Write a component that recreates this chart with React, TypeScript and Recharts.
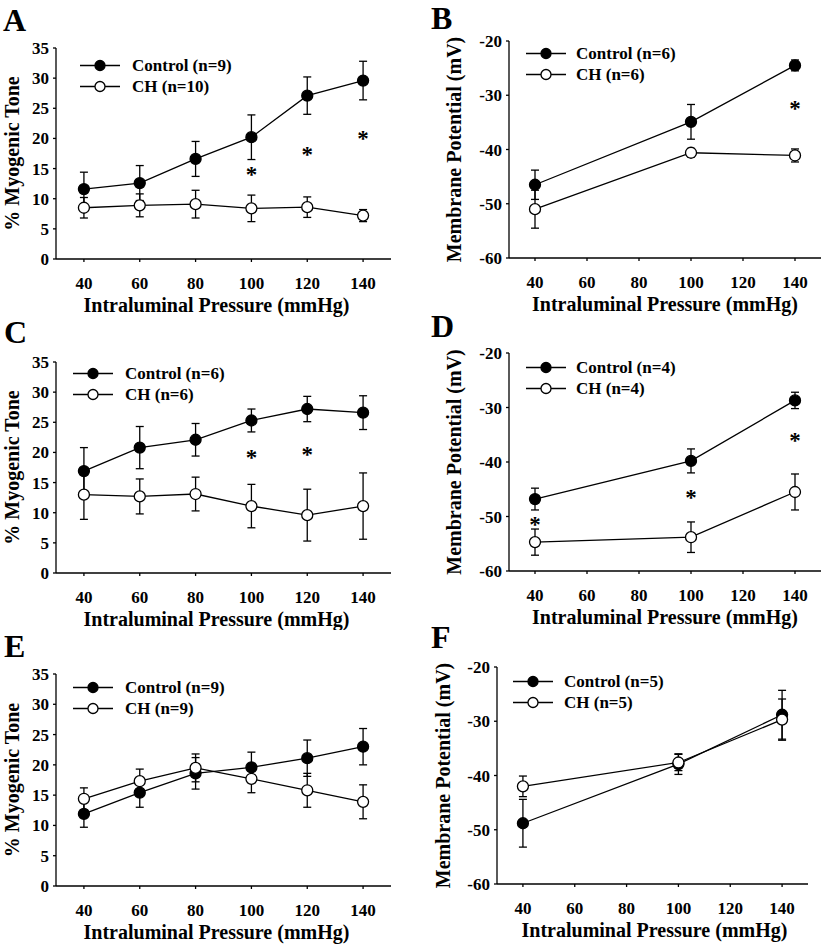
import React from 'react';
import { ComposedChart, Line, Scatter, XAxis, YAxis, ErrorBar, Legend } from 'recharts';

const FONT = '"Liberation Serif", "Times New Roman", serif';

// shared axes
const tonePressures = [40, 60, 80, 100, 120, 140];
const vmPressures = [40, 100, 140];
const pressureTicks = [40, 60, 80, 100, 120, 140];
const toneTicks = [0, 5, 10, 15, 20, 25, 30, 35];
const vmTicks = [-60, -50, -40, -30, -20];

// A - myogenic tone
const aControl = [11.6, 12.6, 16.6, 20.2, 27.1, 29.6];
const aControlSem = [2.8, 2.9, 2.9, 3.7, 3.1, 3.2];
const aCH = [8.5, 8.9, 9.1, 8.4, 8.6, 7.2];
const aCHSem = [1.7, 1.9, 2.3, 2.2, 1.7, 1.0];
const aStarP = [100, 120, 140];
const aStarY = [14.4, 17.7, 20.4];

// B - membrane potential
const bControl = [-46.5, -34.9, -24.5];
const bControlSem = [2.7, 3.2, 1.0];
const bCH = [-51.0, -40.6, -41.1];
const bCHSem = [3.5, 0.8, 1.2];
const bStarP = [140];
const bStarY = [-32];

// C - myogenic tone
const cControl = [16.9, 20.8, 22.1, 25.3, 27.2, 26.6];
const cControlSem = [3.9, 3.5, 2.7, 1.9, 2.1, 2.8];
const cCH = [13.0, 12.7, 13.1, 11.1, 9.6, 11.1];
const cCHSem = [4.1, 2.9, 2.8, 3.6, 4.3, 5.5];
const cStarP = [100, 120];
const cStarY = [19.6, 20.1];

// D - membrane potential
const dControl = [-46.8, -39.8, -28.7];
const dControlSem = [2.0, 2.2, 1.5];
const dCH = [-54.7, -53.8, -45.5];
const dCHSem = [2.4, 2.8, 3.3];
const dStarP = [40, 100, 140];
const dStarY = [-51, -46, -35.6];

// E - myogenic tone
const eControl = [11.9, 15.4, 18.6, 19.6, 21.1, 23.0];
const eControlSem = [2.2, 2.4, 2.6, 2.5, 3.0, 3.0];
const eCH = [14.4, 17.3, 19.5, 17.7, 15.8, 13.9];
const eCHSem = [1.8, 2.0, 2.3, 2.3, 2.8, 2.8];

// F - membrane potential
const fControl = [-48.8, -37.9, -28.8];
const fControlSem = [4.4, 1.9, 4.5];
const fCH = [-42.0, -37.6, -29.7];
const fCHSem = [1.9, 1.5, 3.8];

const toneLabel = '% Myogenic Tone';
const vmLabel = 'Membrane Potential (mV)';
const xLabel = 'Intraluminal Pressure (mmHg)';

const buildRows = (p: number[], c: number[], cs: number[], h: number[], hs: number[]) =>
  p.map((v, i) => ({ p: v, ctrl: c[i], ctrlSem: cs[i], ch: h[i], chSem: hs[i] }));

const buildStars = (p: number[], y: number[]) => p.map((v, i) => ({ p: v, y: y[i] }));

const tickStyle = { fill: '#000', fontSize: 17, fontWeight: 'bold', fontFamily: FONT };

const Star = (props: any) => {
  const { cx, cy } = props;
  if (cx == null || cy == null) return null;
  return (
    <text x={cx} y={cy + 10} textAnchor="middle" fontFamily={FONT} fontWeight="bold" fontSize={23} fill="#000">
      *
    </text>
  );
};

interface PanelProps {
  left: number;
  top: number;
  height: number;
  plot: { l: number; r: number; t: number; b: number };
  rows: any[];
  stars: { p: number; y: number }[];
  names: string[];
  yDomain: number[];
  yTicks: number[];
  yLabel: string;
  yLabelX: number;
  xTitleDx: number;
  legend: { x: number; y: number; gap: number };
}

const Panel = ({ left, top, height, plot, rows, stars, names, yDomain, yTicks, yLabel, yLabelX, xTitleDx, legend }: PanelProps) => {
  const width = 411;
  const midY = (plot.t + plot.b) / 2;
  const midX = (plot.l + plot.r) / 2 + xTitleDx;

  const renderLegend = () => (
    <div style={{ fontFamily: FONT, fontWeight: 'bold', fontSize: 17, color: '#000' }}>
      {names.map((n, i) => (
        <div key={n} style={{ height: 21, display: 'flex', alignItems: 'center' }}>
          <svg width={40} height={21} style={{ display: 'block' }}>
            <line x1={0} x2={40} y1={10.5} y2={10.5} stroke="#000" strokeWidth={1.3} />
            <circle cx={20} cy={10.5} r={5} fill={i === 0 ? '#000' : '#fff'} stroke="#000" strokeWidth={1.3} />
          </svg>
          <span style={{ marginLeft: legend.gap, lineHeight: '21px', whiteSpace: 'nowrap' }}>{n}</span>
        </div>
      ))}
    </div>
  );

  const YTitle = () => (
    <text
      x={yLabelX}
      y={midY}
      transform={`rotate(-90, ${yLabelX}, ${midY})`}
      textAnchor="middle"
      fontFamily={FONT}
      fontWeight="bold"
      fontSize={20}
      fill="#000"
    >
      {yLabel}
    </text>
  );

  const XTitle = () => (
    <text x={midX} y={plot.b + 53} textAnchor="middle" fontFamily={FONT} fontWeight="bold" fontSize={20} fill="#000">
      {xLabel}
    </text>
  );

  return (
    <div style={{ position: 'absolute', left, top, width, height }}>
      <ComposedChart
        width={width}
        height={height}
        data={rows}
        margin={{ top: plot.t, right: width - plot.r, bottom: 0, left: 0 }}
      >
        <XAxis
          type="number"
          dataKey="p"
          domain={[30, 150]}
          ticks={pressureTicks}
          height={height - plot.b}
          tick={tickStyle}
          tickSize={3}
          tickMargin={15}
          axisLine={{ stroke: '#000', strokeWidth: 1.3 }}
          tickLine={{ stroke: '#000', strokeWidth: 1.3 }}
          label={<XTitle />}
        />
        <YAxis
          type="number"
          domain={yDomain}
          ticks={yTicks}
          width={plot.l}
          tick={tickStyle}
          tickSize={3}
          tickMargin={4}
          axisLine={{ stroke: '#000', strokeWidth: 1.3 }}
          tickLine={{ stroke: '#000', strokeWidth: 1.3 }}
          label={<YTitle />}
        />
        <Legend
          layout="vertical"
          align="center"
          verticalAlign="middle"
          content={renderLegend}
          wrapperStyle={{ left: legend.x, top: legend.y, width: 'auto' }}
        />
        <Line
          dataKey="ctrl"
          stroke="#000"
          strokeWidth={1.3}
          dot={{ r: 5.5, fill: '#000', stroke: '#000', strokeWidth: 1.3 }}
          activeDot={false}
          isAnimationActive={false}
        >
          <ErrorBar dataKey="ctrlSem" direction="y" width={4} stroke="#000" strokeWidth={1.3} />
        </Line>
        <Line
          dataKey="ch"
          stroke="#000"
          strokeWidth={1.3}
          dot={{ r: 5.5, fill: '#fff', stroke: '#000', strokeWidth: 1.3 }}
          activeDot={false}
          isAnimationActive={false}
        >
          <ErrorBar dataKey="chSem" direction="y" width={4} stroke="#000" strokeWidth={1.3} />
        </Line>
        {stars.length > 0 && (
          <Scatter data={stars} dataKey="y" shape={<Star />} isAnimationActive={false} />
        )}
      </ComposedChart>
    </div>
  );
};

const letters = [
  { t: 'A', x: 3, y: 31 },
  { t: 'B', x: 431, y: 29 },
  { t: 'C', x: 4, y: 343 },
  { t: 'D', x: 431, y: 337 },
  { t: 'E', x: 4, y: 657 },
  { t: 'F', x: 431, y: 648 },
];

export default function App() {
  return (
    <div style={{ position: 'absolute', left: 0, top: 0, width: 822, height: 944, background: '#fff', overflow: 'hidden' }}>
      <Panel
        left={0} top={0} height={320}
        plot={{ l: 56, r: 391, t: 48, b: 259 }}
        rows={buildRows(tonePressures, aControl, aControlSem, aCH, aCHSem)}
        stars={buildStars(aStarP, aStarY)}
        names={['Control (n=9)', 'CH (n=10)']}
        yDomain={[0, 35]} yTicks={toneTicks} yLabel={toneLabel} yLabelX={19} xTitleDx={-7}
        legend={{ x: 80, y: 55, gap: 12 }}
      />
      <Panel
        left={411} top={0} height={320}
        plot={{ l: 98, r: 410, t: 41, b: 258 }}
        rows={buildRows(vmPressures, bControl, bControlSem, bCH, bCHSem)}
        stars={buildStars(bStarP, bStarY)}
        names={['Control (n=6)', 'CH (n=6)']}
        yDomain={[-60, -20]} yTicks={vmTicks} yLabel={vmLabel} yLabelX={50} xTitleDx={0}
        legend={{ x: 115, y: 43, gap: 10 }}
      />
      <Panel
        left={0} top={310} height={320}
        plot={{ l: 56, r: 391, t: 52, b: 263 }}
        rows={buildRows(tonePressures, cControl, cControlSem, cCH, cCHSem)}
        stars={buildStars(cStarP, cStarY)}
        names={['Control (n=6)', 'CH (n=6)']}
        yDomain={[0, 35]} yTicks={toneTicks} yLabel={toneLabel} yLabelX={19} xTitleDx={-7}
        legend={{ x: 73, y: 53, gap: 12 }}
      />
      <Panel
        left={411} top={310} height={320}
        plot={{ l: 98, r: 410, t: 43, b: 261 }}
        rows={buildRows(vmPressures, dControl, dControlSem, dCH, dCHSem)}
        stars={buildStars(dStarP, dStarY)}
        names={['Control (n=4)', 'CH (n=4)']}
        yDomain={[-60, -20]} yTicks={vmTicks} yLabel={vmLabel} yLabelX={50} xTitleDx={0}
        legend={{ x: 115, y: 47, gap: 10 }}
      />
      <Panel
        left={0} top={620} height={324}
        plot={{ l: 56, r: 391, t: 54, b: 266 }}
        rows={buildRows(tonePressures, eControl, eControlSem, eCH, eCHSem)}
        stars={[]}
        names={['Control (n=9)', 'CH (n=9)']}
        yDomain={[0, 35]} yTicks={toneTicks} yLabel={toneLabel} yLabelX={19} xTitleDx={-7}
        legend={{ x: 73, y: 57, gap: 12 }}
      />
      <Panel
        left={411} top={620} height={324}
        plot={{ l: 86, r: 397, t: 47, b: 264 }}
        rows={buildRows(vmPressures, fControl, fControlSem, fCH, fCHSem)}
        stars={[]}
        names={['Control (n=5)', 'CH (n=5)']}
        yDomain={[-60, -20]} yTicks={vmTicks} yLabel={vmLabel} yLabelX={39} xTitleDx={2}
        legend={{ x: 102, y: 51, gap: 11 }}
      />
      <svg width={822} height={944} style={{ position: 'absolute', left: 0, top: 0, pointerEvents: 'none' }}>
        {letters.map((l) => (
          <text key={l.t} x={l.x} y={l.y} fontFamily={FONT} fontWeight="bold" fontSize={32} fill="#000">
            {l.t}
          </text>
        ))}
      </svg>
    </div>
  );
}
